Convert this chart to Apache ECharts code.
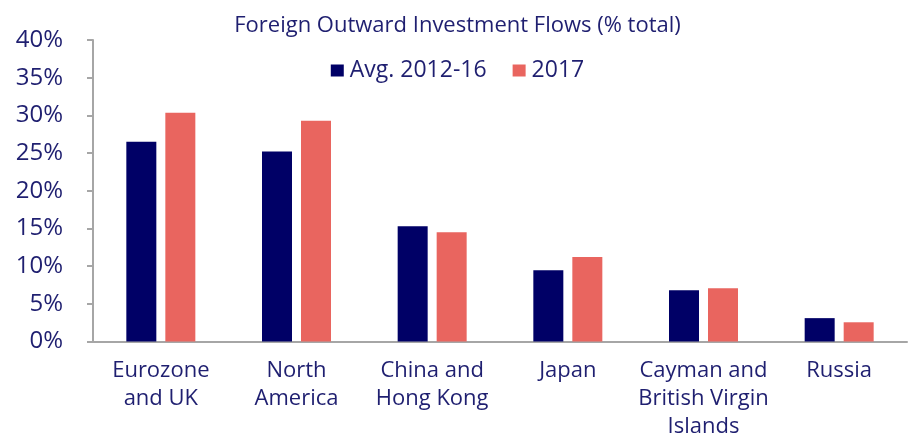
<!DOCTYPE html>
<html>
<head>
<meta charset="utf-8">
<script src="https://cdn.jsdelivr.net/npm/echarts@6/dist/echarts.min.js"></script>
<style>
  html, body { margin: 0; padding: 0; background: #fff; overflow: hidden; }
  #chart { width: 915px; height: 434px; }
</style>
</head>
<body>
<div id="chart"></div>
<script>
// Regions, as drawn on the category axis
const categories = [
  'Eurozone\nand UK',
  'North\nAmerica',
  'China and\nHong Kong',
  'Japan',
  'Cayman and\nBritish Virgin\nIslands',
  'Russia'
];
// Share of foreign outward investment flows, % of total
const avg2012to16 = [26.5, 25.2, 15.3, 9.45, 6.8, 3.1];
const year2017 = [30.35, 29.3, 14.5, 11.2, 7.05, 2.55];
const seriesNames = ['Avg. 2012-16', '2017'];

const textColor = '#1f1f70';
const fontFamily = '"Open Sans", "Noto Sans", sans-serif';

const chart = echarts.init(document.getElementById('chart'), null, { renderer: 'canvas' });
chart.setOption({
  animation: false,
  textStyle: { fontFamily: fontFamily, color: textColor },
  title: {
    text: 'Foreign Outward Investment Flows (% total)',
    left: 'center',
    top: 10,
    textStyle: { fontFamily: fontFamily, color: textColor, fontSize: 22, fontWeight: 'normal' }
  },
  legend: {
    data: seriesNames,
    left: 'center',
    top: 54,
    itemWidth: 13,
    itemHeight: 12,
    itemGap: 26,
    icon: 'rect',
    textStyle: { fontFamily: fontFamily, color: textColor, fontSize: 23, padding: [0, 0, 0, 1] }
  },
  grid: {
    left: 93,
    right: 8,
    top: 40,
    bottom: 92.5,
    containLabel: false,
    outerBoundsMode: 'none'
  },
  xAxis: {
    type: 'category',
    data: categories,
    axisLine: { lineStyle: { color: '#a6a6a6', width: 2 } },
    axisTick: { show: false },
    axisLabel: {
      color: textColor,
      fontFamily: fontFamily,
      fontSize: 22,
      lineHeight: 28,
      margin: 15,
      interval: 0
    }
  },
  yAxis: {
    type: 'value',
    min: 0,
    max: 40,
    interval: 5,
    splitLine: { show: false },
    axisLine: { show: true, lineStyle: { color: '#a6a6a6', width: 2 } },
    axisTick: { show: true, length: 6, lineStyle: { color: '#a6a6a6', width: 2 } },
    axisLabel: {
      color: textColor,
      fontFamily: fontFamily,
      fontSize: 24,
      margin: 30,
      formatter: '{value}%'
    }
  },
  series: [
    {
      name: seriesNames[0],
      type: 'bar',
      data: avg2012to16,
      barWidth: 30,
      barGap: '30%',
      itemStyle: { color: '#000066' }
    },
    {
      name: seriesNames[1],
      type: 'bar',
      data: year2017,
      barWidth: 30,
      itemStyle: { color: '#e9655f' }
    }
  ]
});
</script>
</body>
</html>
